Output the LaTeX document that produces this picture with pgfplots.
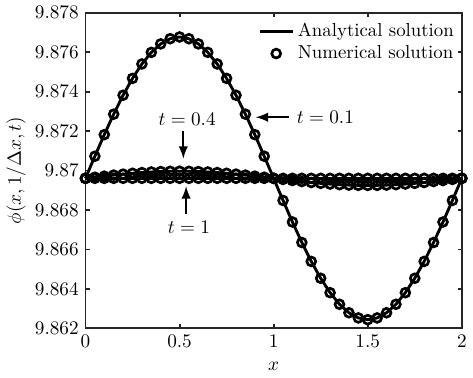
\documentclass[border=0pt]{standalone}
\usepackage{pgfplots}
\usepackage{pgfplotstable}
\pgfplotsset{compat=1.18}

% x, t=0.1, t=0.4, t=1
\pgfplotstableread{
x     a         b         c
0.00  9.869604  9.869604  9.869604
0.05  9.870724  9.869660  9.869604
0.10  9.871817  9.869715  9.869604
0.15  9.872855  9.869767  9.869604
0.20  9.873813  9.869816  9.869604
0.25  9.874667  9.869859  9.869604
0.30  9.875397  9.869895  9.869604
0.35  9.875984  9.869925  9.869604
0.40  9.876414  9.869946  9.869604
0.45  9.876676  9.869960  9.869604
0.50  9.876764  9.869964  9.869604
0.55  9.876676  9.869960  9.869604
0.60  9.876414  9.869946  9.869604
0.65  9.875984  9.869925  9.869604
0.70  9.875397  9.869895  9.869604
0.75  9.874667  9.869859  9.869604
0.80  9.873813  9.869816  9.869604
0.85  9.872855  9.869767  9.869604
0.90  9.871817  9.869715  9.869604
0.95  9.870724  9.869660  9.869604
1.00  9.869604  9.869604  9.869604
1.05  9.868484  9.869548  9.869604
1.10  9.867391  9.869493  9.869604
1.15  9.866353  9.869441  9.869604
1.20  9.865395  9.869392  9.869604
1.25  9.864541  9.869349  9.869604
1.30  9.863811  9.869313  9.869604
1.35  9.863224  9.869283  9.869604
1.40  9.862794  9.869262  9.869604
1.45  9.862532  9.869248  9.869604
1.50  9.862444  9.869244  9.869604
1.55  9.862532  9.869248  9.869604
1.60  9.862794  9.869262  9.869604
1.65  9.863224  9.869283  9.869604
1.70  9.863811  9.869313  9.869604
1.75  9.864541  9.869349  9.869604
1.80  9.865395  9.869392  9.869604
1.85  9.866353  9.869441  9.869604
1.90  9.867391  9.869493  9.869604
1.95  9.868484  9.869548  9.869604
2.00  9.869604  9.869604  9.869604
}\phidata

\definecolor{axgray}{gray}{0.15}

\begin{document}
\begin{tikzpicture}[font=\fontsize{9.8}{11.5}\selectfont]
\begin{axis}[
    scale only axis,
    width=196pt, height=164.5pt,
    xmin=0, xmax=2, ymin=9.862, ymax=9.878,
    xtick={0,0.5,1,1.5,2},
    ytick={9.862,9.864,9.866,9.868,9.870,9.872,9.874,9.876,9.878},
    scaled y ticks=false,
    yticklabel style={/pgf/number format/.cd, fixed, precision=3},
    xticklabel style={/pgf/number format/.cd, fixed, precision=1},
    axis line style={axgray, line width=1pt},
    every tick/.style={axgray, line width=1pt},
    major tick length=2.2pt,
    tick align=inside,
    xlabel={$x$},
    ylabel={$\phi(x,1/\Delta x,t)$},
    xlabel style={yshift=-1pt},
    ylabel style={yshift=-2pt},
    legend style={draw=none, fill=none, at={(0.995,0.985)}, anchor=north east,
        row sep=-1pt, inner sep=1pt},
    legend cell align=left,
    clip=false,
]
\addplot[black, line width=1.5pt, no marks] table[x=x, y=a] {\phidata};
\addlegendentry{Analytical solution}
\addplot[black, only marks, mark=o, mark size=2.3pt, line width=1.4pt] table[x=x, y=a] {\phidata};
\addlegendentry{Numerical solution}
\addplot[black, line width=1.5pt, no marks, forget plot] table[x=x, y=b] {\phidata};
\addplot[black, only marks, mark=o, mark size=2.3pt, line width=1.4pt, forget plot] table[x=x, y=b] {\phidata};
\addplot[black, line width=1.5pt, no marks, forget plot] table[x=x, y=c] {\phidata};
\addplot[black, only marks, mark=o, mark size=2.3pt, line width=1.4pt, forget plot] table[x=x, y=c] {\phidata};

% annotations
\node at (axis cs:0.54,9.8726) {$t=0.4$};
\draw[-latex, line width=1.2pt] (axis cs:0.52,9.8720) -- (axis cs:0.52,9.8706);
\node at (axis cs:0.55,9.8671) {$t=1$};
\draw[-latex, line width=1.2pt] (axis cs:0.535,9.8678) -- (axis cs:0.535,9.8692);
\node at (axis cs:1.275,9.8727) {$t=0.1$};
\draw[-latex, line width=1.2pt] (axis cs:1.08,9.8727) -- (axis cs:0.905,9.8727);
\end{axis}
\end{tikzpicture}
\end{document}
